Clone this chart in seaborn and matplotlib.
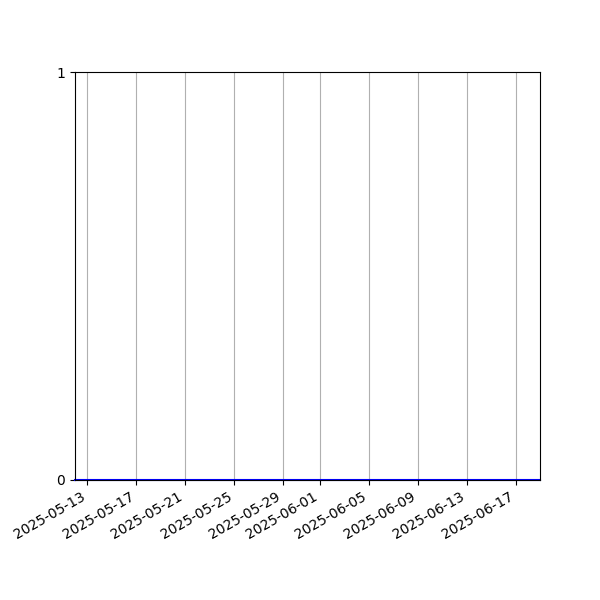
import pandas as pd
import matplotlib
matplotlib.use("Agg")
import matplotlib.pyplot as plt
import seaborn as sns

# daily counts, 2025-05-12 .. 2025-06-19 (all zero in the picture)
dates = pd.date_range("2025-05-12", "2025-06-19", freq="D")
counts = [0, 0, 0, 0, 0, 0, 0, 0, 0, 0,
          0, 0, 0, 0, 0, 0, 0, 0, 0, 0,
          0, 0, 0, 0, 0, 0, 0, 0, 0, 0,
          0, 0, 0, 0, 0, 0, 0, 0, 0]
y_ticks = [0, 1]

df = pd.DataFrame({"date": dates, "count": counts})

fig, ax = plt.subplots(figsize=(6, 6), dpi=100)
sns.lineplot(ax=ax, x="date", y="count", data=df, color="blue", linewidth=1.5, clip_on=False)
ax.set_xlim(df["date"].min(), df["date"].max())
ax.set_ylim(0, 1)
ax.set_yticks(y_ticks)
ax.set(xlabel="", ylabel="")
ax.grid(axis="x")
fig.autofmt_xdate()
fig.savefig("out.png")
